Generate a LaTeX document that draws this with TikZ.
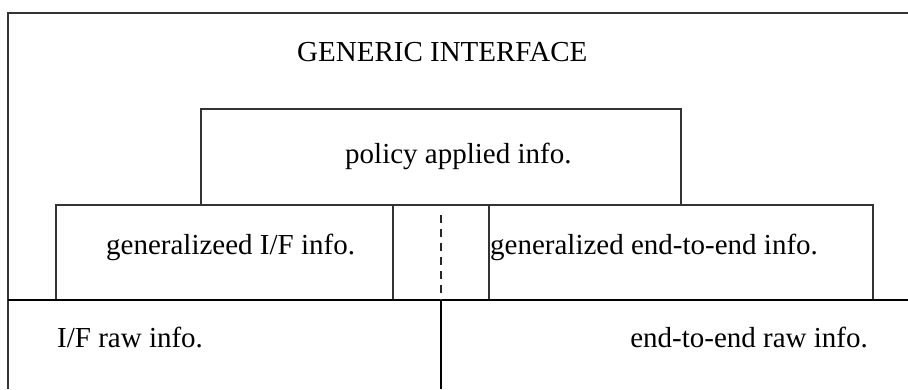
\documentclass[tikz,border=0pt]{standalone}
\usepackage{fontspec}
\setmainfont{Liberation Serif}
\begin{document}
\begin{tikzpicture}[x=1pt,y=-1pt,
  frame/.style={draw=black!80,line width=1.5pt},
  infobox/.style={frame,rectangle,inner sep=0pt,outer sep=0pt},
  lbl/.style={inner sep=0pt,font=\fontsize{29}{33}\selectfont},
  divider/.style={draw=black!85,line width=1.3pt,dash pattern=on 8pt off 6pt}]
\useasboundingbox (0,0) rectangle (908,389);

% outer frame, open to the right and bottom
\coordinate (tl) at (8,13);
\coordinate (tr) at (908,13);
\coordinate (bl) at (8,389);
\draw[frame] (tr) -- (tl) -- (bl);

% layered boxes
\node[infobox,minimum width=480pt,minimum height=96pt] (policy) at (441,157) {};
\node[infobox,minimum width=337pt,minimum height=95pt] (genif) at (224.5,252.5) {};
\node[infobox,minimum width=96pt,minimum height=95pt] (gap) at (441,252.5) {};
\node[infobox,minimum width=384pt,minimum height=95pt] (gene2e) at (681,252.5) {};

% base line of the raw layer
\coordinate (hl) at (8,300);
\coordinate (hr) at (908,300);
\draw[frame,draw=black] (hl) -- (hr);

% split between the two sides
\coordinate (dtop) at (441,215);
\coordinate (mid) at (441,300);
\coordinate (bot) at (441,389);
\draw[divider] (dtop) -- (mid);
\draw[frame,draw=black] (mid) -- (bot);

% labels
\node[lbl,anchor=base west] (title) at (297,61) {GENERIC INTERFACE};
\node[lbl,anchor=base west] (tpolicy) at (345,163) {policy applied info.};
\node[lbl,anchor=base west] (tgenif) at (106,254) {generalizeed I/F info.};
\node[lbl,anchor=base west] (tgene2e) at (490,254) {generalized end-to-end info.};
\node[lbl,anchor=base west] (trawif) at (57,347) {I/F raw info.};
\node[lbl,anchor=base east] (trawe2e) at (868,347) {end-to-end raw info.};
\end{tikzpicture}
\end{document}
